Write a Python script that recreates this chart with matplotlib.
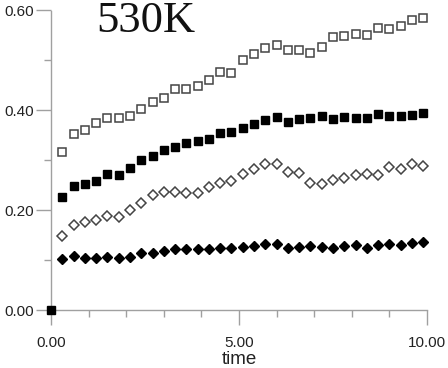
import numpy as np
import matplotlib
matplotlib.use("Agg")
import matplotlib.pyplot as plt
from matplotlib.ticker import MultipleLocator, FormatStrFormatter

# sample times 0.3 .. 9.9
time = [round(0.3 * k, 1) for k in range(1, 34)]

open_sq = [0.316, 0.353, 0.360, 0.374, 0.385, 0.385, 0.389, 0.402, 0.417, 0.425, 0.442,
           0.442, 0.448, 0.460, 0.477, 0.475, 0.501, 0.512, 0.525, 0.530, 0.521, 0.521,
           0.515, 0.526, 0.547, 0.549, 0.552, 0.550, 0.565, 0.563, 0.569, 0.580, 0.584]
filled_sq = [0.226, 0.248, 0.253, 0.258, 0.272, 0.271, 0.284, 0.301, 0.308, 0.320, 0.327,
             0.334, 0.338, 0.342, 0.354, 0.357, 0.365, 0.373, 0.381, 0.387, 0.377, 0.382,
             0.385, 0.388, 0.382, 0.387, 0.385, 0.384, 0.392, 0.389, 0.388, 0.391, 0.395]
open_dia = [0.149, 0.171, 0.177, 0.181, 0.188, 0.187, 0.200, 0.215, 0.231, 0.237, 0.237,
            0.234, 0.234, 0.247, 0.255, 0.259, 0.273, 0.283, 0.292, 0.293, 0.277, 0.275,
            0.255, 0.253, 0.261, 0.264, 0.271, 0.273, 0.271, 0.287, 0.283, 0.292, 0.289]
filled_dia = [0.102, 0.109, 0.105, 0.105, 0.107, 0.105, 0.107, 0.114, 0.115, 0.119, 0.122,
              0.122, 0.122, 0.122, 0.125, 0.125, 0.126, 0.128, 0.133, 0.133, 0.125, 0.127,
              0.128, 0.126, 0.125, 0.129, 0.131, 0.125, 0.131, 0.133, 0.130, 0.134, 0.137]
origin_x = [0.0]
origin_y = [0.0]

grey = "#a0a0a0"
plt.rcParams["font.family"] = ["Liberation Sans", "DejaVu Sans"]

fig = plt.figure(figsize=(4.48, 3.68), dpi=100)
ax = fig.add_axes([51 / 448, 58 / 368, 376 / 448, 299.5 / 368])

ax.plot(time, open_sq, ls="none", marker="s", ms=5.8, mfc="white", mec="#444444", mew=1.1, clip_on=False)
ax.plot(time, filled_sq, ls="none", marker="s", ms=6.0, mfc="black", mec="black", clip_on=False)
ax.plot(time, open_dia, ls="none", marker="D", ms=4.6, mfc="white", mec="#444444", mew=1.1, clip_on=False)
ax.plot(time, filled_dia, ls="none", marker="D", ms=5.0, mfc="black", mec="black", clip_on=False)
ax.plot(origin_x, origin_y, ls="none", marker="s", ms=6.0, mfc="black", mec="black", clip_on=False, zorder=5)

ax.set_xlim(0, 10)
ax.set_ylim(0, 0.6)
ax.spines["top"].set_visible(False)
ax.spines["right"].set_visible(False)
for s in ["left", "bottom"]:
    ax.spines[s].set_color(grey)
    ax.spines[s].set_linewidth(1.0)

ax.xaxis.set_major_locator(MultipleLocator(5))
ax.xaxis.set_minor_locator(MultipleLocator(1))
ax.yaxis.set_major_locator(MultipleLocator(0.2))
ax.yaxis.set_minor_locator(MultipleLocator(0.1))
ax.xaxis.set_major_formatter(FormatStrFormatter("%.2f"))
ax.yaxis.set_major_formatter(FormatStrFormatter("%.2f"))
ax.tick_params(which="major", length=10.5, width=1.0, color=grey, labelsize=11, labelcolor="#222222")
ax.tick_params(which="minor", length=5, width=1.0, color=grey)
ax.tick_params(axis="x", which="major", pad=8.5)
ax.tick_params(axis="y", which="major", pad=2)

ax.set_xlabel("time", fontsize=13.5, color="#222222", labelpad=0.5)
fig.text(146 / 448, 1 - 1 / 368, "530K", fontsize=32, family="Liberation Serif",
         ha="center", va="top", color="#111111")

fig.savefig("out.png", dpi=100)
